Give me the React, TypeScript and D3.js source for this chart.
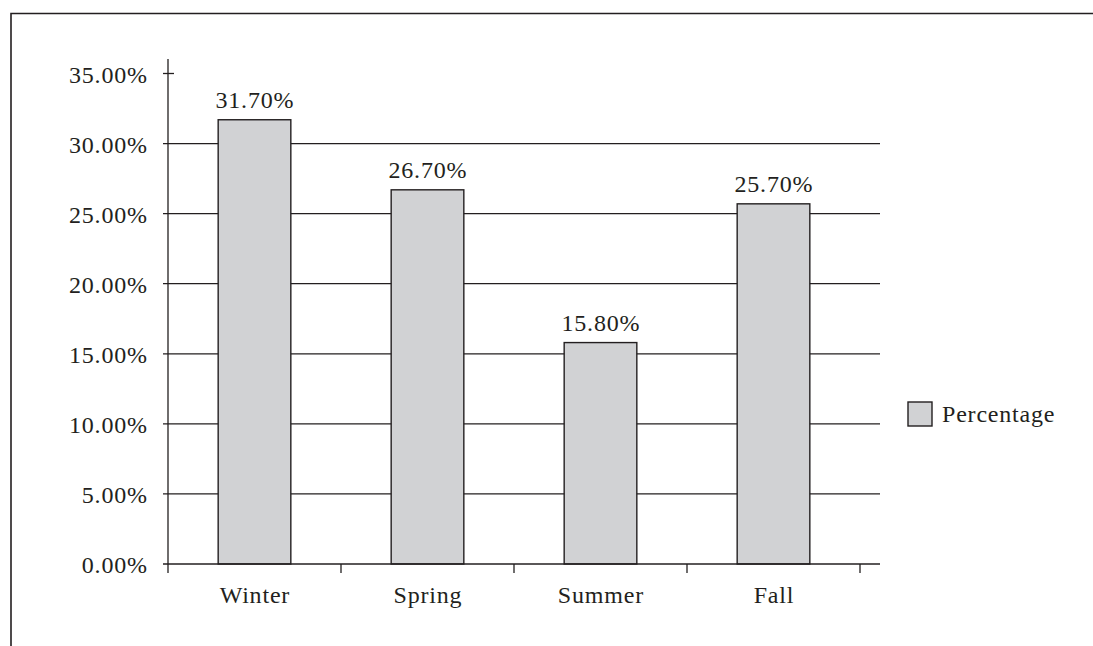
import React from "react";
import * as d3 from "d3";

const seasons = ["Winter", "Spring", "Summer", "Fall"];
const percentages = [31.7, 26.7, 15.8, 25.7];
const yTicks = [0, 5, 10, 15, 20, 25, 30, 35];
const seriesName = "Percentage";

const W = 1093;
const H = 646;
const font = "'Liberation Serif', 'Times New Roman', serif";
const ink = "#231f20";
const fs = 24;
const ls = 0.8;

export default function App() {
    const left = 168;
    const right = 860;
    const gridRight = 880;
    const top = 73.5;
    const bottom = 564;

    const x = d3.scaleBand<string>()
        .domain(seasons)
        .range([left, right])
        .paddingInner(0.58)
        .paddingOuter(0.29);

    const y = d3.scaleLinear().domain([0, 35]).range([bottom, top]);

    // band edges for the category tick marks
    const step = (right - left) / seasons.length;
    const catTicks = d3.range(seasons.length + 1).map(i => left + i * step);

    const textProps = { fontFamily: font, fontSize: fs, fill: ink, letterSpacing: ls };

    return (
        <div style={{ position: "fixed", left: 0, top: 0 }}>
            <svg width={W} height={H} style={{ display: "block", background: "white" }}>
                {/* frame */}
                <path d={`M11,${H} V13.5 H${W}`} fill="none" stroke={ink} strokeWidth={1.6} />

                {/* gridlines */}
                {yTicks.filter(t => t > 0 && t < 35).map(t => (
                    <line key={t} x1={left - 5} x2={gridRight} y1={y(t)} y2={y(t)} stroke={ink} strokeWidth={1.3} />
                ))}

                {/* bars */}
                {seasons.map((s, i) => (
                    <rect
                        key={s}
                        x={x(s)}
                        y={y(percentages[i])}
                        width={x.bandwidth()}
                        height={bottom - y(percentages[i])}
                        fill="#d1d2d4"
                        stroke={ink}
                        strokeWidth={1.4}
                    />
                ))}

                {/* axes */}
                <line x1={left} x2={left} y1={59} y2={bottom} stroke={ink} strokeWidth={1.3} />
                <line x1={left - 5} x2={gridRight} y1={bottom} y2={bottom} stroke={ink} strokeWidth={1.5} />
                <line x1={left - 5} x2={left + 6} y1={y(35)} y2={y(35)} stroke={ink} strokeWidth={1.3} />
                {catTicks.map((cx, i) => (
                    <line key={i} x1={cx} x2={cx} y1={bottom} y2={bottom + 9} stroke={ink} strokeWidth={1.3} />
                ))}

                {/* y tick labels */}
                {yTicks.map(t => (
                    <text key={t} x={147 + ls} y={y(t) + 9} textAnchor="end" {...textProps}>
                        {t.toFixed(2)}%
                    </text>
                ))}

                {/* x labels */}
                {seasons.map(s => (
                    <text key={s} x={x(s)! + x.bandwidth() / 2 + ls / 2} y={603} textAnchor="middle" {...textProps}>
                        {s}
                    </text>
                ))}

                {/* value labels */}
                {seasons.map((s, i) => (
                    <text key={s} x={x(s)! + x.bandwidth() / 2 + ls / 2} y={y(percentages[i]) - 12} textAnchor="middle" {...textProps}>
                        {percentages[i].toFixed(2)}%
                    </text>
                ))}

                {/* legend */}
                <rect x={908} y={402} width={24} height={24} fill="#d1d2d4" stroke={ink} strokeWidth={1.4} />
                <text x={942} y={422} {...textProps}>{seriesName}</text>
            </svg>
        </div>
    );
}
